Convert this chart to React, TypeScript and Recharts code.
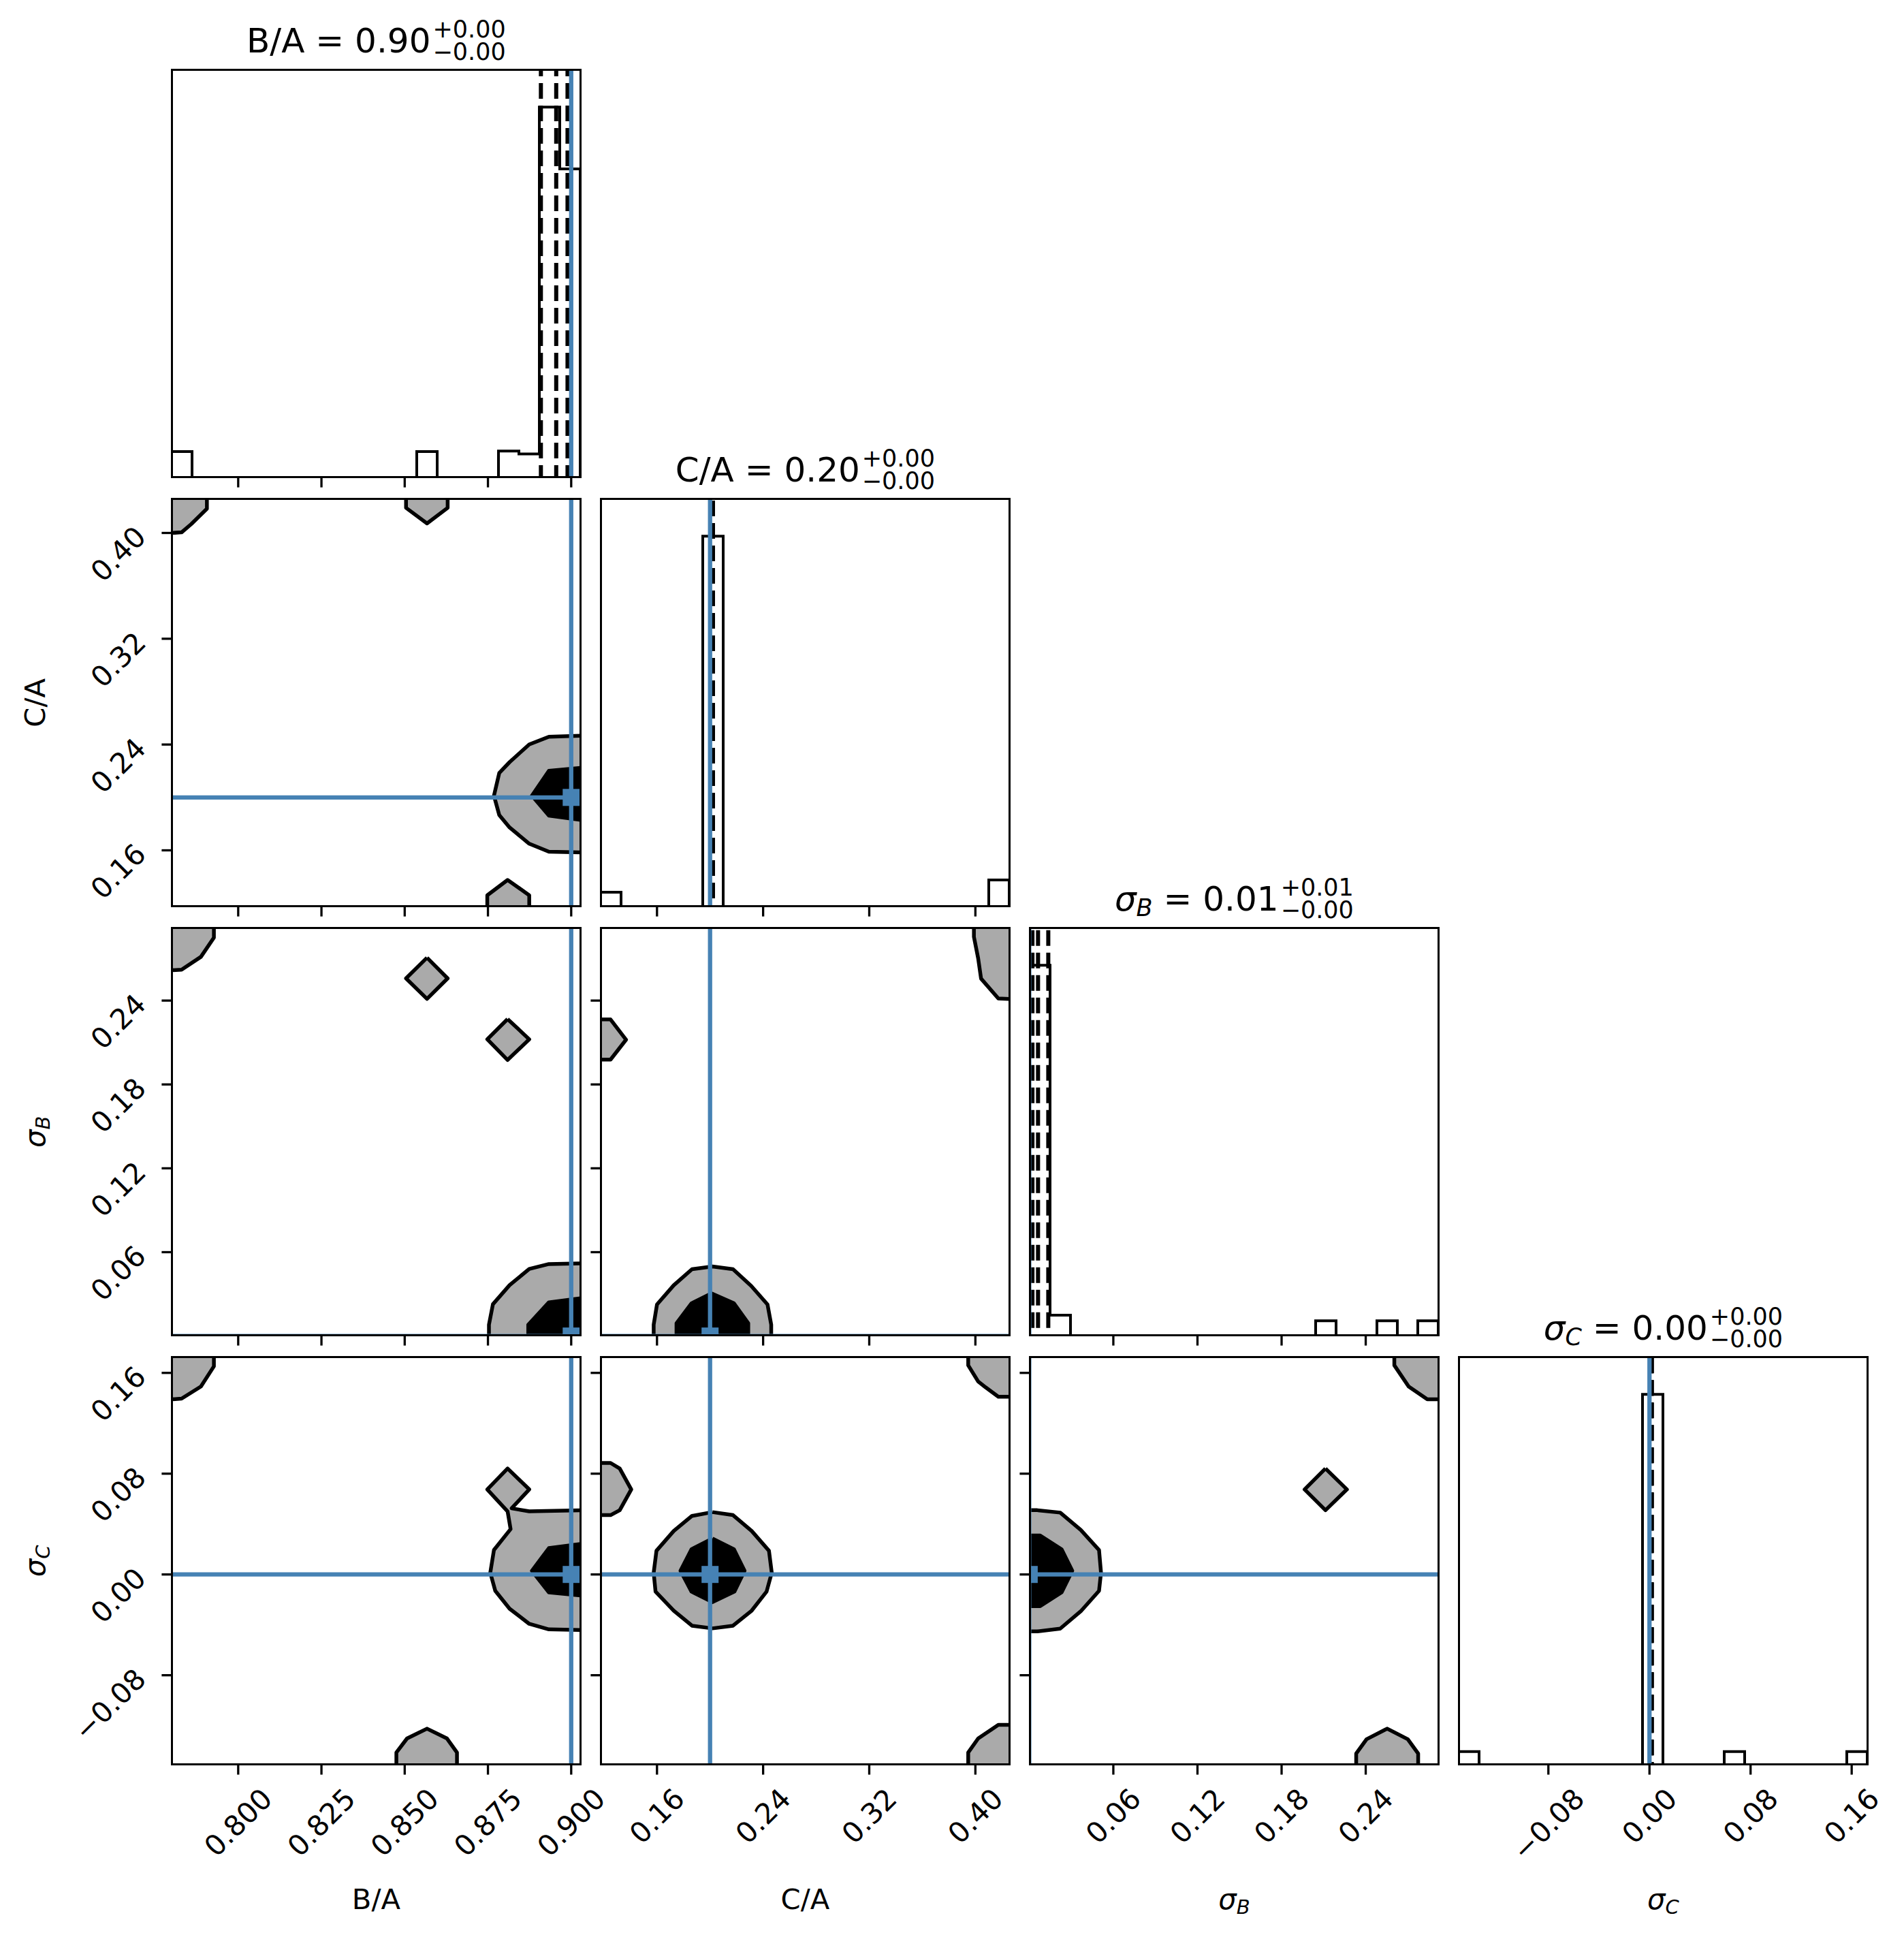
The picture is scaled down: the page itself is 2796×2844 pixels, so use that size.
import React from 'react';
import { ComposedChart, Line, Scatter, XAxis, YAxis } from 'recharts';

type Pt = [number, number];

const paramNames = ['B/A', 'C/A', 'σB', 'σC'];
const truthValues = [0.9, 0.2, 0.0, 0.0];
const axisRanges: Pt[] = [
	[0.78, 0.9027],
	[0.1175, 0.4255],
	[0.0003, 0.2917],
	[-0.151, 0.1723],
];
const axisTicks = [
	[0.8, 0.825, 0.85, 0.875, 0.9],
	[0.16, 0.24, 0.32, 0.4],
	[0.06, 0.12, 0.18, 0.24],
	[-0.08, 0.0, 0.08, 0.16],
];
const tickDecimals = [3, 2, 2, 2];

// 20 bins across each axis range
const histBA = [1.0, 0, 0, 0, 0, 0, 0, 0, 0, 0, 0, 0, 1.0, 0, 0, 0, 1.02, 0.91, 14.35, 11.96];
const histCA = [1.0, 0, 0, 0, 0, 26.0, 0, 0, 0, 0, 0, 0, 0, 0, 0, 0, 0, 0, 0, 1.87];
const histSB = [25.1, 1.38, 0, 0, 0, 0, 0, 0, 0, 0, 0, 0, 0, 0, 1.0, 0, 0, 1.0, 0, 1.0];
const histSC = [1.0, 0, 0, 0, 0, 0, 0, 0, 0, 28.2, 0, 0, 0, 1.0, 0, 0, 0, 0, 0, 1.0];

// 16 / 50 / 84 % quantiles
const quantBA = [0.8909, 0.8955, 0.8989];
const quantCA = [0.2018, 0.202, 0.2022];
const quantSB = [0.0023, 0.0063, 0.0136];
const quantSC = [0.0015, 0.0017, 0.0019];

const titleValues = ['0.90', '0.20', '0.01', '0.00'];
const titleUpper = ['+0.00', '+0.00', '+0.01', '+0.00'];
const titleLower = ['−0.00', '−0.00', '−0.00', '−0.00'];

// contour polygons, data coordinates (x, y)
const outerCAvsBA: Pt[][] = [
	[[0.777, 0.43], [0.7906, 0.43], [0.7906, 0.4183], [0.7859, 0.4067], [0.783, 0.4005], [0.78, 0.4], [0.777, 0.4]],
	[[0.8504, 0.43], [0.8504, 0.419], [0.8567, 0.4072], [0.8629, 0.419], [0.8629, 0.43]],
	[[0.8748, 0.113], [0.8748, 0.126], [0.8809, 0.1376], [0.8874, 0.126], [0.8874, 0.113]],
	[[0.905, 0.2468], [0.8933, 0.2459], [0.8874, 0.2401], [0.8815, 0.2267], [0.8784, 0.2185], [0.8768, 0.2013], [0.8784, 0.1866], [0.8815, 0.1773], [0.8874, 0.165], [0.8933, 0.159], [0.905, 0.1583]],
];
const innerCAvsBA: Pt[][] = [
	[[0.905, 0.2229], [0.8933, 0.2201], [0.8882, 0.2013], [0.8933, 0.1863], [0.905, 0.1822]],
];

const outerSBvsBA: Pt[][] = [
	[[0.777, 0.297], [0.7927, 0.297], [0.7927, 0.285], [0.7888, 0.2713], [0.783, 0.2621], [0.78, 0.2617], [0.777, 0.2617]],
	[[0.8567, 0.2707], [0.8629, 0.2559], [0.8567, 0.2412], [0.8504, 0.2559]],
	[[0.8809, 0.2268], [0.8874, 0.2123], [0.8809, 0.1975], [0.8748, 0.2123]],
	[[0.905, 0.0521], [0.8933, 0.0515], [0.8874, 0.048], [0.8815, 0.0364], [0.8765, 0.0228], [0.8753, 0.0081], [0.8753, -0.006], [0.905, -0.006]],
];
const innerSBvsBA: Pt[][] = [
	[[0.905, 0.0276], [0.8933, 0.0241], [0.8871, 0.0081], [0.8871, -0.006], [0.905, -0.006]],
];

const outerSCvsBA: Pt[][] = [
	[[0.777, 0.18], [0.7927, 0.18], [0.7927, 0.1652], [0.7888, 0.1492], [0.783, 0.1396], [0.78, 0.139], [0.777, 0.139]],
	[[0.8475, -0.16], [0.8475, -0.1413], [0.8507, -0.1302], [0.8567, -0.1224], [0.8627, -0.1302], [0.8657, -0.1413], [0.8657, -0.16]],
	[[0.905, 0.051], [0.8874, 0.0501], [0.8821, 0.0525], [0.8874, 0.0675], [0.8809, 0.0841], [0.8748, 0.0675], [0.8809, 0.0501], [0.8818, 0.036], [0.8768, 0.0194], [0.8757, 0.0014], [0.8772, -0.013], [0.8815, -0.0272], [0.8874, -0.0392], [0.8933, -0.0436], [0.905, -0.0442]],
];
const innerSCvsBA: Pt[][] = [
	[[0.905, 0.0249], [0.8933, 0.0209], [0.8882, 0.0029], [0.8933, -0.0142], [0.905, -0.0172]],
];

const outerSBvsCA: Pt[][] = [
	[[0.3989, 0.297], [0.3989, 0.2856], [0.4021, 0.2702], [0.4043, 0.2557], [0.4173, 0.2415], [0.43, 0.241], [0.43, 0.297]],
	[[0.114, 0.2265], [0.125, 0.2265], [0.1367, 0.212], [0.125, 0.1978], [0.114, 0.1978]],
	[[0.1575, -0.006], [0.1575, 0.0081], [0.16, 0.0226], [0.1726, 0.0363], [0.1864, 0.0478], [0.2018, 0.0498], [0.2173, 0.0478], [0.231, 0.0359], [0.2433, 0.0226], [0.2461, 0.0081], [0.2461, -0.006]],
];
const innerSBvsCA: Pt[][] = [
	[[0.1747, -0.006], [0.1747, 0.0091], [0.186, 0.0234], [0.2011, 0.0305], [0.218, 0.0234], [0.2288, 0.0091], [0.2288, -0.006]],
];

const outerSCvsCA: Pt[][] = [
	[[0.3946, 0.18], [0.3946, 0.166], [0.4021, 0.1532], [0.4076, 0.1486], [0.4173, 0.1411], [0.43, 0.1411], [0.43, 0.18]],
	[[0.3946, -0.16], [0.3946, -0.1413], [0.4021, -0.1302], [0.4076, -0.1263], [0.4173, -0.1194], [0.43, -0.1194], [0.43, -0.16]],
	[[0.114, 0.0885], [0.125, 0.0885], [0.1319, 0.0841], [0.1406, 0.0675], [0.1319, 0.051], [0.125, 0.0471], [0.114, 0.0471]],
	[[0.2018, 0.0495], [0.2173, 0.0471], [0.2314, 0.0345], [0.2444, 0.0188], [0.2465, 0.0014], [0.2426, -0.0136], [0.2314, -0.0287], [0.2173, -0.0407], [0.2018, -0.0428], [0.1864, -0.0407], [0.1726, -0.0287], [0.1589, -0.0136], [0.1575, 0.0014], [0.1596, 0.0188], [0.1726, 0.0345], [0.1864, 0.0465]],
];
const innerSCvsCA: Pt[][] = [
	[[0.2018, 0.0285], [0.218, 0.02], [0.226, 0.0029], [0.2184, -0.0136], [0.2018, -0.022], [0.186, -0.0136], [0.1777, 0.0029], [0.186, 0.02]],
];

const outerSCvsSB: Pt[][] = [
	[[0.2604, 0.18], [0.2604, 0.166], [0.2706, 0.1492], [0.2839, 0.139], [0.295, 0.139], [0.295, 0.18]],
	[[0.2332, -0.16], [0.2332, -0.1422], [0.2406, -0.1308], [0.2553, -0.1224], [0.27, -0.1308], [0.2774, -0.1422], [0.2774, -0.16]],
	[[0.2113, 0.0841], [0.2266, 0.0675], [0.2113, 0.051], [0.1964, 0.0675]],
	[[-0.006, 0.051], [0.0058, 0.051], [0.0221, 0.0491], [0.0368, 0.0353], [0.0498, 0.0194], [0.0512, 0.0014], [0.0498, -0.013], [0.0368, -0.0292], [0.0221, -0.043], [0.0058, -0.0452], [-0.006, -0.0452]],
];
const innerSCvsSB: Pt[][] = [
	[[-0.006, 0.0309], [0.0078, 0.0309], [0.0231, 0.02], [0.0307, 0.0029], [0.0231, -0.0142], [0.0078, -0.0251], [-0.006, -0.0251]],
];

const histPanels = [
	{ i: 0, counts: histBA, quants: quantBA },
	{ i: 1, counts: histCA, quants: quantCA },
	{ i: 2, counts: histSB, quants: quantSB },
	{ i: 3, counts: histSC, quants: quantSC },
];
const pairPanels = [
	{ row: 1, col: 0, outer: outerCAvsBA, inner: innerCAvsBA },
	{ row: 2, col: 0, outer: outerSBvsBA, inner: innerSBvsBA },
	{ row: 3, col: 0, outer: outerSCvsBA, inner: innerSCvsBA },
	{ row: 2, col: 1, outer: outerSBvsCA, inner: innerSBvsCA },
	{ row: 3, col: 1, outer: outerSCvsCA, inner: innerSCvsCA },
	{ row: 3, col: 2, outer: outerSCvsSB, inner: innerSCvsSB },
];

const FONT = 'DejaVu Sans';
const BLUE = '#4682b4';
const GRAY = '#aaaaaa';
const PW = 600;
const PH = 598;
const STEP = 630;
const X0 = 252.4;
const Y0 = 102.8;
const MT = 10;
const TICK_FS = 41.7;
const LABEL_FS = 41.7;

const charEm = (ch: string) => (ch === '.' ? 0.318 : ch === '−' ? 0.838 : 0.636);
const textWidth = (s: string) => Array.from(s).reduce((w, ch) => w + charEm(ch), 0) * TICK_FS;
const tickText = (v: number, i: number) => v.toFixed(tickDecimals[i]).replace('-', '−');

const toXY = (pts: Pt[]) => pts.map(([x, y]) => ({ x, y }));
const closed = (pts: Pt[]) => toXY([...pts, pts[0]]);
const noPoint = () => <g />;

const stepData = (counts: number[], [lo, hi]: Pt) => {
	const w = (hi - lo) / counts.length;
	const pts = counts.map((c, k) => ({ x: lo + k * w, y: c }));
	return [{ x: lo, y: 0 }, ...pts, { x: hi, y: counts[counts.length - 1] }, { x: hi, y: 0 }];
};

const makeXTick = (i: number, show: boolean) => (props: any) => {
	if (!show) return <g />;
	const { x, y, payload } = props;
	const label = tickText(payload.value, i);
	const cy = y + 14.6 + (textWidth(label) + 37.7) / 2.828;
	return (
		<text
			transform={`translate(${x},${cy}) rotate(-45)`}
			textAnchor="middle"
			dominantBaseline="central"
			fontFamily={FONT}
			fontSize={TICK_FS}
			fill="#000"
		>
			{label}
		</text>
	);
};

const makeYTick = (i: number, show: boolean) => (props: any) => {
	if (!show) return <g />;
	const { x, y, payload } = props;
	const label = tickText(payload.value, i);
	return (
		<text
			transform={`translate(${x - 30.9},${y - 2}) rotate(-45)`}
			textAnchor="end"
			dominantBaseline="central"
			fontFamily={FONT}
			fontSize={TICK_FS}
			fill="#000"
		>
			{label}
		</text>
	);
};

const PanelBox = ({ row, col, yDomain, yTicks, yVar, children }: any) => {
	const ML = col === 0 ? 170 : 30;
	const MB = row === 3 ? 170 : 30;
	const MR = row === 3 ? 80 : 10;
	const left = X0 + col * STEP;
	const top = Y0 + row * STEP;
	const diag = row === col;
	return (
		<>
			<div style={{ position: 'absolute', left: left - ML, top: top - MT }}>
				<ComposedChart
					width={ML + PW + MR}
					height={MT + PH + MB}
					margin={{ top: MT, right: MR, bottom: 0, left: 0 }}
				>
					<XAxis
						type="number"
						dataKey="x"
						domain={axisRanges[col]}
						allowDataOverflow
						ticks={axisTicks[col]}
						interval={0}
						height={MB}
						tickSize={14.6}
						tickMargin={0}
						axisLine={false}
						stroke="#000"
						tickLine={{ stroke: '#000', strokeWidth: 3.3 }}
						tick={makeXTick(col, row === 3)}
					/>
					<YAxis
						type="number"
						dataKey="y"
						domain={yDomain}
						allowDataOverflow
						width={ML}
						ticks={diag ? [] : yTicks}
						interval={0}
						tickSize={14.6}
						tickMargin={0}
						axisLine={false}
						stroke="#000"
						tickLine={diag ? false : { stroke: '#000', strokeWidth: 3.3 }}
						tick={diag ? false : makeYTick(yVar, col === 0)}
					/>
					{children}
				</ComposedChart>
			</div>
			<div
				style={{
					position: 'absolute',
					left: left - 1.65,
					top: top - 1.65,
					width: PW + 3.3,
					height: PH + 3.3,
					border: '3.3px solid #000',
					boxSizing: 'border-box',
				}}
			/>
		</>
	);
};

const TitleName = ({ i }: { i: number }) => {
	if (i < 2) return <>{paramNames[i]}</>;
	return (
		<>
			<span style={{ fontStyle: 'italic' }}>σ</span>
			<span style={{ fontStyle: 'italic', fontSize: 35, verticalAlign: '-8px' }}>{paramNames[i].slice(1)}</span>
		</>
	);
};

const SvgName = ({ i }: { i: number }) => {
	if (i < 2) return <>{paramNames[i]}</>;
	return (
		<>
			<tspan fontStyle="italic">σ</tspan>
			<tspan fontStyle="italic" fontSize={29} dy={7}>
				{paramNames[i].slice(1)}
			</tspan>
		</>
	);
};

const App = () => {
	return (
		<div
			style={{
				position: 'absolute',
				left: 0,
				top: 0,
				width: 2796,
				height: 2844,
				background: '#fff',
				fontFamily: FONT,
				overflow: 'hidden',
			}}
		>
			{histPanels.map(({ i, counts, quants }) => {
				const yMax = 1.1 * Math.max(...counts);
				return (
					<PanelBox key={`h${i}`} row={i} col={i} yDomain={[0, yMax]} yTicks={[]} yVar={i}>
						<Line
							data={stepData(counts, axisRanges[i])}
							dataKey="y"
							type="stepAfter"
							stroke="#000"
							strokeWidth={4}
							dot={false}
							activeDot={false}
							isAnimationActive={false}
						/>
						{quants.map((q, k) => (
							<Scatter
								key={`q${k}`}
								data={toXY([[q, -1], [q, yMax * 2]])}
								shape={noPoint}
								line={{ stroke: '#000', strokeWidth: 6, strokeDasharray: '23 10', fill: 'none' }}
								isAnimationActive={false}
							/>
						))}
						<Scatter
							data={toXY([[truthValues[i], -1], [truthValues[i], yMax * 2]])}
							shape={noPoint}
							line={{ stroke: BLUE, strokeWidth: 6.3, fill: 'none' }}
							isAnimationActive={false}
						/>
					</PanelBox>
				);
			})}

			{pairPanels.map(({ row, col, outer, inner }) => {
				const [xlo, xhi] = axisRanges[col];
				const [ylo, yhi] = axisRanges[row];
				return (
					<PanelBox
						key={`p${row}${col}`}
						row={row}
						col={col}
						yDomain={axisRanges[row]}
						yTicks={axisTicks[row]}
						yVar={row}
					>
						{outer.map((poly, k) => (
							<Scatter
								key={`o${k}`}
								data={closed(poly)}
								shape={noPoint}
								line={{ fill: GRAY, stroke: '#000', strokeWidth: 5.5, strokeLinejoin: 'round' }}
								isAnimationActive={false}
							/>
						))}
						{inner.map((poly, k) => (
							<Scatter
								key={`n${k}`}
								data={closed(poly)}
								shape={noPoint}
								line={{ fill: '#000', stroke: '#000', strokeWidth: 5.5, strokeLinejoin: 'round' }}
								isAnimationActive={false}
							/>
						))}
						<Scatter
							data={toXY([[truthValues[col], ylo - 1], [truthValues[col], yhi + 1]])}
							shape={noPoint}
							line={{ stroke: BLUE, strokeWidth: 6.3, fill: 'none' }}
							isAnimationActive={false}
						/>
						<Scatter
							data={toXY([[xlo - 1, truthValues[row]], [xhi + 1, truthValues[row]]])}
							shape={noPoint}
							line={{ stroke: BLUE, strokeWidth: 6.3, fill: 'none' }}
							isAnimationActive={false}
						/>
						<Scatter
							data={toXY([[truthValues[col], truthValues[row]]])}
							shape={(p: any) => <rect x={p.cx - 12.5} y={p.cy - 12.5} width={25} height={25} fill={BLUE} />}
							isAnimationActive={false}
						/>
					</PanelBox>
				);
			})}

			{paramNames.map((_, i) => (
				<div
					key={`t${i}`}
					style={{
						position: 'absolute',
						left: X0 + i * STEP + PW / 2,
						top: Y0 + i * STEP - 76,
						transform: 'translateX(-50%)',
						display: 'flex',
						alignItems: 'flex-start',
						whiteSpace: 'nowrap',
						color: '#000',
					}}
				>
					<div style={{ fontSize: 50, lineHeight: '50px', marginTop: 8 }}>
						<TitleName i={i} /> = {titleValues[i]}
					</div>
					<div
						style={{
							display: 'flex',
							flexDirection: 'column',
							fontSize: 35,
							lineHeight: '33.5px',
							marginLeft: 3,
						}}
					>
						<span>{titleUpper[i]}</span>
						<span>{titleLower[i]}</span>
					</div>
				</div>
			))}

			<svg
				width={2796}
				height={2844}
				style={{ position: 'absolute', left: 0, top: 0, pointerEvents: 'none' }}
			>
				{paramNames.map((_, i) => (
					<text
						key={`bx${i}`}
						x={X0 + i * STEP + PW / 2}
						y={2803}
						textAnchor="middle"
						fontFamily={FONT}
						fontSize={LABEL_FS}
						fill="#000"
					>
						<SvgName i={i} />
					</text>
				))}
				{paramNames.slice(1).map((_, k) => (
					<text
						key={`ly${k}`}
						transform={`translate(66,${Y0 + (k + 1) * STEP + PH / 2}) rotate(-90)`}
						textAnchor="middle"
						fontFamily={FONT}
						fontSize={LABEL_FS}
						fill="#000"
					>
						<SvgName i={k + 1} />
					</text>
				))}
			</svg>
		</div>
	);
};

export default App;
